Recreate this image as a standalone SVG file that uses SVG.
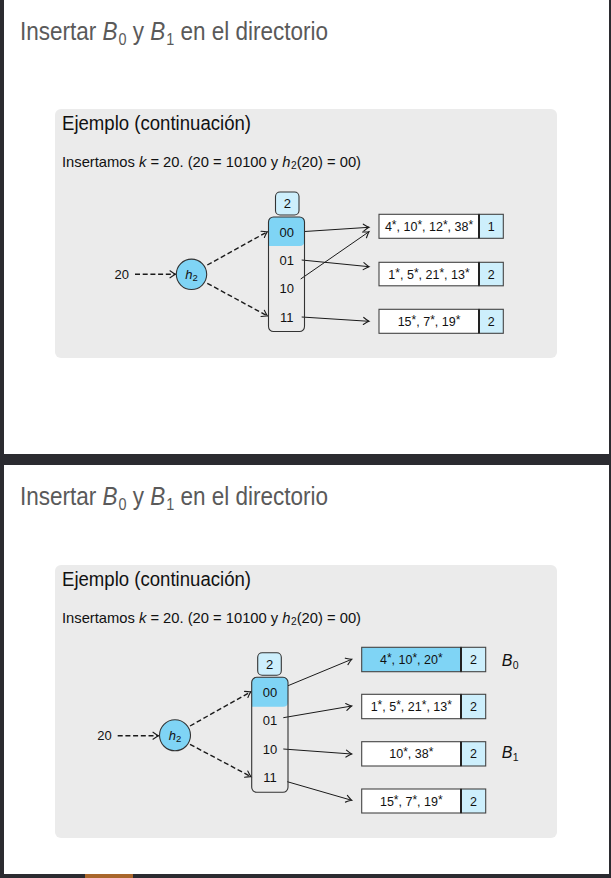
<svg xmlns="http://www.w3.org/2000/svg" width="611" height="878" viewBox="0 0 611 878">
<defs>
<style>
.frame{fill:#2b2b30}
.slide{fill:#ffffff}
.block{fill:#ebebeb}
.title{font-family:"Liberation Sans",Arial,sans-serif;font-size:25px;fill:#5a5a5a}
.bt{font-family:"Liberation Sans",Arial,sans-serif;font-size:20px;fill:#111}
.body{font-family:"Liberation Sans",Arial,sans-serif;font-size:14.5px;fill:#111}
.lbl{font-family:"Liberation Sans",Arial,sans-serif;font-size:13px;fill:#111;text-anchor:middle}
.bk{font-family:"Liberation Sans",Arial,sans-serif;font-size:12.5px;fill:#111;text-anchor:middle}
.s{font-size:12px}
.it{font-style:italic}
.blab{font-family:"Liberation Sans",Arial,sans-serif;font-size:16px;fill:#111;font-style:italic}
.dir{fill:none;stroke:#333;stroke-width:1.1}
.hl{fill:#7fd4f5}
.lb{fill:#cdeffc;stroke:#333;stroke-width:1.1}
.cell{fill:#ffffff;stroke:#444;stroke-width:1.1}
.cellh{fill:#7fd4f5;stroke:#444;stroke-width:1.1}
.cnt{fill:#cdeffc;stroke:#444;stroke-width:1.1}
.div{stroke:#222;stroke-width:2}
.circ{fill:#7fd4f5;stroke:#333;stroke-width:1.1}
.edge{fill:none;stroke:#1a1a1a;stroke-width:1;marker-end:url(#ah)}
.dash{fill:none;stroke:#1a1a1a;stroke-width:1.4;stroke-dasharray:5 2.7;marker-end:url(#ah)}
</style>
<marker id="ah" markerUnits="userSpaceOnUse" markerWidth="10" markerHeight="10" refX="0" refY="0" viewBox="-7 -5 8 10" orient="auto" overflow="visible">
<path d="M-5.5,-3.5 Q-1.5,-0.6 0,0 Q-1.5,0.6 -5.5,3.5" fill="none" stroke="#1a1a1a" stroke-width="1.1" stroke-linecap="round"/>
</marker>
</defs>

<!-- frame -->
<rect class="frame" x="0" y="0" width="611" height="878"/>
<rect class="slide" x="4" y="0" width="605" height="454"/>
<rect class="slide" x="4" y="465" width="605" height="409"/>
<rect x="85" y="874" width="48" height="4" fill="#a9662b"/>

<!-- ===== Slide 1 ===== -->
<g id="slide1-title">
<text class="title" x="20" y="40" textLength="308" lengthAdjust="spacingAndGlyphs">Insertar <tspan class="it">B</tspan><tspan font-size="16" dx="1" dy="5">0</tspan><tspan dy="-5"> y </tspan><tspan class="it">B</tspan><tspan font-size="16" dx="1" dy="5">1</tspan><tspan dy="-5"> en el directorio</tspan></text>
</g>
<rect class="block" x="55" y="109" width="502" height="249" rx="6"/>
<g id="slide1-block-text">
<text class="bt" x="62" y="130" textLength="189" lengthAdjust="spacingAndGlyphs">Ejemplo (continuación)</text>
<text class="body" x="62" y="166.5" textLength="299" lengthAdjust="spacingAndGlyphs">Insertamos <tspan class="it">k</tspan> = 20.  (20 = 10100 y <tspan class="it">h</tspan><tspan font-size="10" dx="0.5" dy="2">2</tspan><tspan dy="-2">(20) = 00)</tspan></text>
</g>

<g id="s1-connectors">
<path class="dash" d="M135,274.3 L175.5,274.3"/>
<path class="dash" d="M207.3,265 L267.5,231.7"/>
<path class="dash" d="M207.3,283.3 L267.5,316"/>
<path class="edge" d="M301.7,231.7 L369,227.3"/>
<path class="edge" d="M301.7,260 L369,266.7"/>
<path class="edge" d="M300.7,279 L369,231.7"/>
<path class="edge" d="M301.7,317 L369,321.3"/>
</g>

<g id="s1-input"><text class="lbl" x="121.7" y="279">20</text></g>
<g id="s1-hash">
<circle class="circ" cx="191.5" cy="274.3" r="15.2"/>
<text class="lbl" x="191.5" y="278.6"><tspan class="it">h</tspan><tspan font-size="9.5" dy="2">2</tspan></text>
</g>
<g id="s1-depth">
<rect class="lb" x="275.5" y="192" width="23.5" height="23" rx="4.5"/>
<text class="lbl" x="287.3" y="208.2">2</text>
</g>
<g id="s1-directory">
<path class="hl" d="M268.5,246 L268.5,222 Q268.5,217 273.5,217 L299.5,217 Q304.5,217 304.5,222 L304.5,241 Q304.5,246 299.5,246 Z"/>
<rect class="dir" x="268.5" y="217" width="36" height="114.5" rx="5"/>
<text class="lbl" x="286.7" y="236.5">00</text>
<text class="lbl" x="286.7" y="264.7">01</text>
<text class="lbl" x="286.7" y="293.2">10</text>
<text class="lbl" x="286.7" y="321.7">11</text>
</g>
<g id="s1-bucket-a">
<rect class="cell" x="379" y="214.3" width="100" height="24"/>
<rect class="cnt" x="479" y="214.3" width="24.3" height="24"/>
<line class="div" x1="479" y1="214.3" x2="479" y2="238.3"/>
<text class="bk" x="429" y="231">4<tspan class="s" dy="-2">*</tspan><tspan dy="2">, 10</tspan><tspan class="s" dy="-2">*</tspan><tspan dy="2">, 12</tspan><tspan class="s" dy="-2">*</tspan><tspan dy="2">, 38</tspan><tspan class="s" dy="-2">*</tspan></text>
<text class="bk" x="491.2" y="231">1</text>
</g>
<g id="s1-bucket-b">
<rect class="cell" x="379" y="262.3" width="100" height="23.5"/>
<rect class="cnt" x="479" y="262.3" width="24.3" height="23.5"/>
<line class="div" x1="479" y1="262.3" x2="479" y2="285.8"/>
<text class="bk" x="429" y="278.7">1<tspan class="s" dy="-2">*</tspan><tspan dy="2">, 5</tspan><tspan class="s" dy="-2">*</tspan><tspan dy="2">, 21</tspan><tspan class="s" dy="-2">*</tspan><tspan dy="2">, 13</tspan><tspan class="s" dy="-2">*</tspan></text>
<text class="bk" x="491.2" y="278.7">2</text>
</g>
<g id="s1-bucket-c">
<rect class="cell" x="379" y="309.3" width="100" height="24"/>
<rect class="cnt" x="479" y="309.3" width="24.3" height="24"/>
<line class="div" x1="479" y1="309.3" x2="479" y2="333.3"/>
<text class="bk" x="429" y="326">15<tspan class="s" dy="-2">*</tspan><tspan dy="2">, 7</tspan><tspan class="s" dy="-2">*</tspan><tspan dy="2">, 19</tspan><tspan class="s" dy="-2">*</tspan></text>
<text class="bk" x="491.2" y="326">2</text>
</g>

<!-- ===== Slide 2 ===== -->
<g id="slide2-title">
<text class="title" x="20" y="505" textLength="308" lengthAdjust="spacingAndGlyphs">Insertar <tspan class="it">B</tspan><tspan font-size="16" dx="1" dy="5">0</tspan><tspan dy="-5"> y </tspan><tspan class="it">B</tspan><tspan font-size="16" dx="1" dy="5">1</tspan><tspan dy="-5"> en el directorio</tspan></text>
</g>
<rect class="block" x="55" y="565" width="502" height="273" rx="6"/>
<g id="slide2-block-text">
<text class="bt" x="62" y="586" textLength="189" lengthAdjust="spacingAndGlyphs">Ejemplo (continuación)</text>
<text class="body" x="62" y="622.7" textLength="299" lengthAdjust="spacingAndGlyphs">Insertamos <tspan class="it">k</tspan> = 20.  (20 = 10100 y <tspan class="it">h</tspan><tspan font-size="10" dx="0.5" dy="2">2</tspan><tspan dy="-2">(20) = 00)</tspan></text>
</g>

<g id="s2-connectors">
<path class="dash" d="M117.7,735.7 L158.5,735.7"/>
<path class="dash" d="M190,726 L251,691.7"/>
<path class="dash" d="M190,744.3 L251,776.7"/>
<path class="edge" d="M287.3,686 L351.7,659.3"/>
<path class="edge" d="M283.3,717.7 L351.7,706"/>
<path class="edge" d="M283.3,749 L351.7,754"/>
<path class="edge" d="M287.3,781.7 L351.7,800.3"/>
</g>

<g id="s2-input"><text class="lbl" x="104.5" y="740.4">20</text></g>
<g id="s2-hash">
<circle class="circ" cx="175" cy="735.3" r="15.5"/>
<text class="lbl" x="175" y="739.6"><tspan class="it">h</tspan><tspan font-size="9.5" dy="2">2</tspan></text>
</g>
<g id="s2-depth">
<rect class="lb" x="257.7" y="652.7" width="23.6" height="22.6" rx="4.5"/>
<text class="lbl" x="269.5" y="668.7">2</text>
</g>
<g id="s2-directory">
<path class="hl" d="M251.7,706.7 L251.7,682.3 Q251.7,677.3 256.7,677.3 L283,677.3 Q288,677.3 288,682.3 L288,701.7 Q288,706.7 283,706.7 Z"/>
<rect class="dir" x="251.7" y="677.3" width="36.3" height="115" rx="5"/>
<text class="lbl" x="270" y="697">00</text>
<text class="lbl" x="270" y="725">01</text>
<text class="lbl" x="270" y="753.7">10</text>
<text class="lbl" x="270" y="782">11</text>
</g>
<g id="s2-bucket-b0">
<rect class="cellh" x="361.7" y="647.3" width="99.3" height="24.4"/>
<rect class="cnt" x="461" y="647.3" width="24.7" height="24.4"/>
<line class="div" x1="461" y1="647.3" x2="461" y2="671.7"/>
<text class="bk" x="411.3" y="664">4<tspan class="s" dy="-2">*</tspan><tspan dy="2">, 10</tspan><tspan class="s" dy="-2">*</tspan><tspan dy="2">, 20</tspan><tspan class="s" dy="-2">*</tspan></text>
<text class="bk" x="473.4" y="664">2</text>
<text class="blab" x="501.7" y="666">B<tspan style="font-size:10.5px;font-style:normal" dx="0.5" dy="3">0</tspan></text>
</g>
<g id="s2-bucket-b">
<rect class="cell" x="361.7" y="694.3" width="99.3" height="24.4"/>
<rect class="cnt" x="461" y="694.3" width="24.7" height="24.4"/>
<line class="div" x1="461" y1="694.3" x2="461" y2="718.7"/>
<text class="bk" x="411.3" y="711">1<tspan class="s" dy="-2">*</tspan><tspan dy="2">, 5</tspan><tspan class="s" dy="-2">*</tspan><tspan dy="2">, 21</tspan><tspan class="s" dy="-2">*</tspan><tspan dy="2">, 13</tspan><tspan class="s" dy="-2">*</tspan></text>
<text class="bk" x="473.4" y="711">2</text>
</g>
<g id="s2-bucket-b1">
<rect class="cell" x="361.7" y="741.7" width="99.3" height="24.3"/>
<rect class="cnt" x="461" y="741.7" width="24.7" height="24.3"/>
<line class="div" x1="461" y1="741.7" x2="461" y2="766"/>
<text class="bk" x="411.3" y="758.3">10<tspan class="s" dy="-2">*</tspan><tspan dy="2">, 38</tspan><tspan class="s" dy="-2">*</tspan></text>
<text class="bk" x="473.4" y="758.3">2</text>
<text class="blab" x="501.7" y="758">B<tspan style="font-size:10.5px;font-style:normal" dx="0.5" dy="3">1</tspan></text>
</g>
<g id="s2-bucket-d">
<rect class="cell" x="361.7" y="789" width="99.3" height="24"/>
<rect class="cnt" x="461" y="789" width="24.7" height="24"/>
<line class="div" x1="461" y1="789" x2="461" y2="813"/>
<text class="bk" x="411.3" y="805.5">15<tspan class="s" dy="-2">*</tspan><tspan dy="2">, 7</tspan><tspan class="s" dy="-2">*</tspan><tspan dy="2">, 19</tspan><tspan class="s" dy="-2">*</tspan></text>
<text class="bk" x="473.4" y="805.5">2</text>
</g>
</svg>
